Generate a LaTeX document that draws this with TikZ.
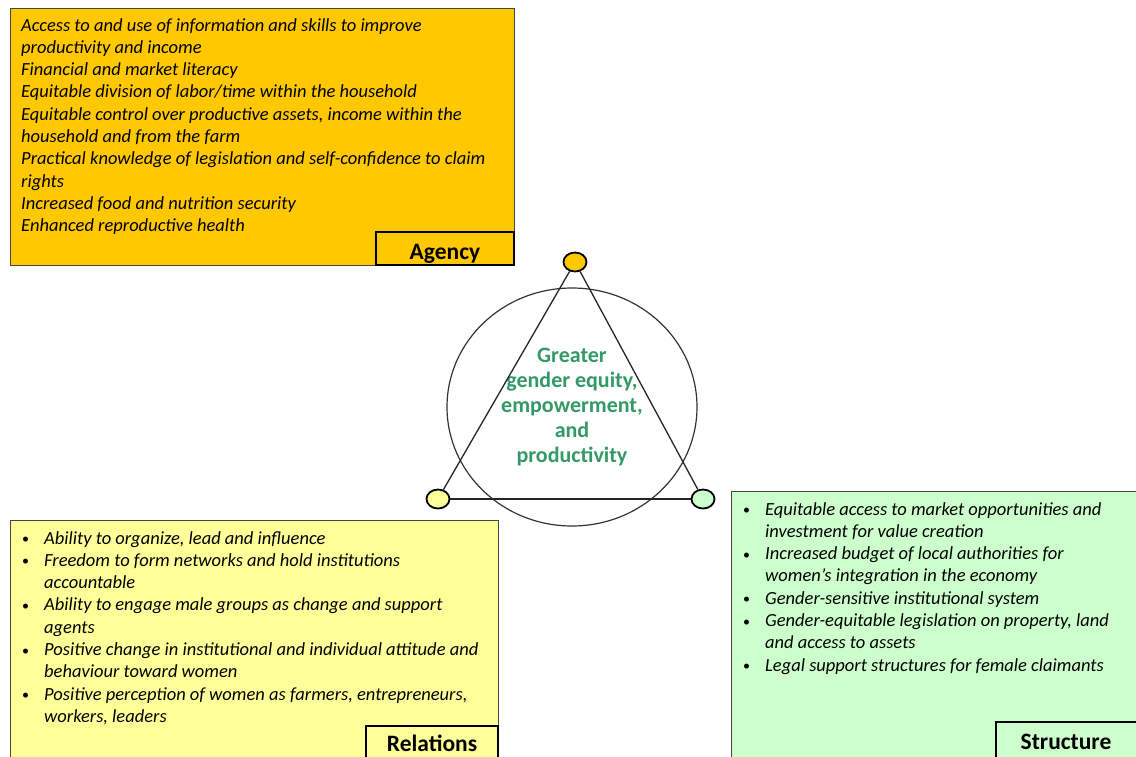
\documentclass[tikz,border=0pt]{standalone}
\usepackage{fontspec}
\setmainfont{Carlito}
\usetikzlibrary{shapes.geometric}
\definecolor{agencyfill}{RGB}{255,200,0}
\definecolor{relfill}{RGB}{255,255,153}
\definecolor{strfill}{RGB}{204,255,204}
\definecolor{goalgreen}{RGB}{51,153,102}
\definecolor{boxedge}{RGB}{70,70,70}
\newcommand{\bulit}[1]{\par\noindent\hangindent=23pt\hangafter=1\makebox[23pt][l]{\hspace{1pt}\raisebox{0.5pt}{\fontsize{14}{14}\selectfont\upshape\textbullet}}\ignorespaces#1}
\tikzset{
  panel/.style={draw=boxedge, line width=1pt},
  labelbox/.style={draw=black, line width=2pt, fill=none},
  labeltext/.style={font=\fontsize{23.5}{26}\selectfont\bfseries, anchor=base, inner sep=0pt},
  listtext/.style={anchor=base west, inner sep=0pt, font=\fontsize{18.5}{22.3}\selectfont\itshape},
  corner/.style={ellipse, draw=black, line width=1.8pt, minimum width=23pt, minimum height=19pt, inner sep=0pt},
  edge/.style={draw=black!85, line width=1.3pt},
}
\begin{document}
\begin{tikzpicture}[x=1pt,y=-1pt]
\useasboundingbox (0,0) rectangle (1136,756);
\fill[white] (0,0) rectangle (1136,756);
% Panels
\draw[panel, fill=agencyfill] (10,8) rectangle (514,265);
\draw[panel, fill=relfill] (10,520) rectangle (498,762);
\draw[panel, fill=strfill] (731,491) rectangle (1142,762);
% Agency list
\node[listtext] (agtext) at (21,31) {\parbox[t]{490pt}{\raggedright
Access to and use of information and skills to improve\newline
productivity and income\newline
Financial and market literacy\newline
Equitable division of labor/time within the household\newline
Equitable control over productive assets, income within the\newline
household and from the farm\newline
Practical knowledge of legislation and self-confidence to claim\newline
rights\newline
Increased food and nutrition security\newline
Enhanced reproductive health}};
% Relations list
\node[listtext] (reltext) at (21,544) {\parbox[t]{475pt}{\raggedright
\bulit{Ability to organize, lead and influence}
\bulit{Freedom to form networks and hold institutions\newline accountable}
\bulit{Ability to engage male groups as change and support\newline agents}
\bulit{Positive change in institutional and individual attitude and\newline behaviour toward women}
\bulit{Positive perception of women as farmers, entrepreneurs,\newline workers, leaders}}};
% Structure list
\node[listtext] (strtext) at (742,515) {\parbox[t]{390pt}{\raggedright
\bulit{Equitable access to market opportunities and\newline investment for value creation}
\bulit{Increased budget of local authorities for\newline women's integration in the economy}
\bulit{Gender-sensitive institutional system}
\bulit{Gender-equitable legislation on property, land\newline and access to assets}
\bulit{Legal support structures for female claimants}}};
% Label boxes
\draw[labelbox] (376,232) rectangle (514,265);
\node[labeltext] (aglabel) at (445,259) {Agency};
\draw[labelbox] (366,726) rectangle (498,762);
\node[labeltext] (rellabel) at (432,751.5) {Relations};
\draw[labelbox] (996,722) rectangle (1142,762);
\node[labeltext] (strlabel) at (1066,749) {Structure};
% Central circle with text
\node[ellipse, draw=black!80, line width=1.2pt, minimum width=250pt, minimum height=238pt, inner sep=0pt,
      align=center, text=goalgreen, font=\fontsize{22}{25}\selectfont\bfseries] (goal) at (572,407)
  {Greater\\gender equity,\\empowerment,\\and\\productivity};
% Triangle corners
\node[corner, fill=agencyfill] (top) at (575,262) {};
\node[corner, fill=relfill] (left) at (438,499) {};
\node[corner, fill=strfill] (right) at (703,499) {};
\draw[edge] (top) -- (left);
\draw[edge] (top) -- (right);
\draw[edge] (left) -- (right);
\end{tikzpicture}
\end{document}
